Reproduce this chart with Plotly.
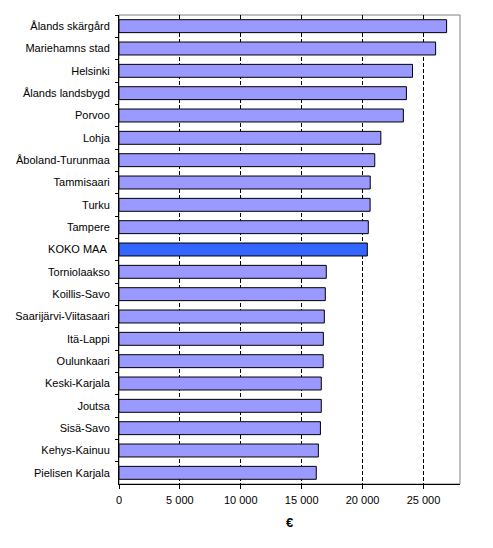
import plotly.graph_objects as go

# regions, sorted as in the picture (top to bottom)
regions = ['Ålands skärgård', 'Mariehamns stad', 'Helsinki', 'Ålands landsbygd', 'Porvoo',
           'Lohja', 'Åboland-Turunmaa', 'Tammisaari', 'Turku', 'Tampere', 'KOKO MAA',
           'Torniolaakso', 'Koillis-Savo', 'Saarijärvi-Viitasaari', 'Itä-Lappi', 'Oulunkaari',
           'Keski-Karjala', 'Joutsa', 'Sisä-Savo', 'Kehys-Kainuu', 'Pielisen Karjala']
income = [26900, 26000, 24100, 23600, 23350, 21500, 21000, 20630, 20620, 20470, 20390,
          17020, 16940, 16860, 16780, 16770, 16610, 16610, 16540, 16370, 16200]
highlight = 'KOKO MAA'

x_ticks = [0, 5000, 10000, 15000, 20000, 25000]
x_tick_text = ['0', '5 000', '10 000', '15 000', '20 000', '25 000']

colors = ['#3366FF' if r == highlight else '#9999FF' for r in regions]
labels = [r + '\u00a0' if r == highlight else r for r in regions]

fig = go.Figure(go.Bar(
    x=income, y=labels, orientation='h',
    marker=dict(color=colors, line=dict(color='black', width=1)),
))

# page body adds 8px, so the figure is a bit smaller than the window
fig.update_layout(
    width=485, height=540,
    margin=dict(l=111, r=33, t=7, b=64),
    paper_bgcolor='white', plot_bgcolor='white',
    font=dict(family='Arial, Liberation Sans, sans-serif', size=11, color='black'),
    bargap=0.42,
    showlegend=False,
    shapes=[dict(type='rect', xref='paper', yref='paper', x0=0, y0=0, x1=1, y1=1,
                 line=dict(color='#808080', width=1), layer='below')],
)
fig.update_xaxes(
    range=[0, 28000], tickvals=x_ticks, ticktext=x_tick_text,
    showgrid=True, gridcolor='black', griddash='4px,2px', gridwidth=1,
    showline=True, linecolor='black', linewidth=1,
    ticks='outside', ticklen=4, tickcolor='black',
    zeroline=False, automargin=False, ticklabelstandoff=2,
    title=dict(text='<b>€</b>', standoff=12),
)
fig.update_yaxes(
    autorange='reversed', tickson='boundaries',
    showgrid=False, showline=True, linecolor='black', linewidth=1,
    ticks='outside', ticklen=3, tickcolor='black',
    automargin=False, ticklabelstandoff=6,
)

fig.write_html("out.html")
